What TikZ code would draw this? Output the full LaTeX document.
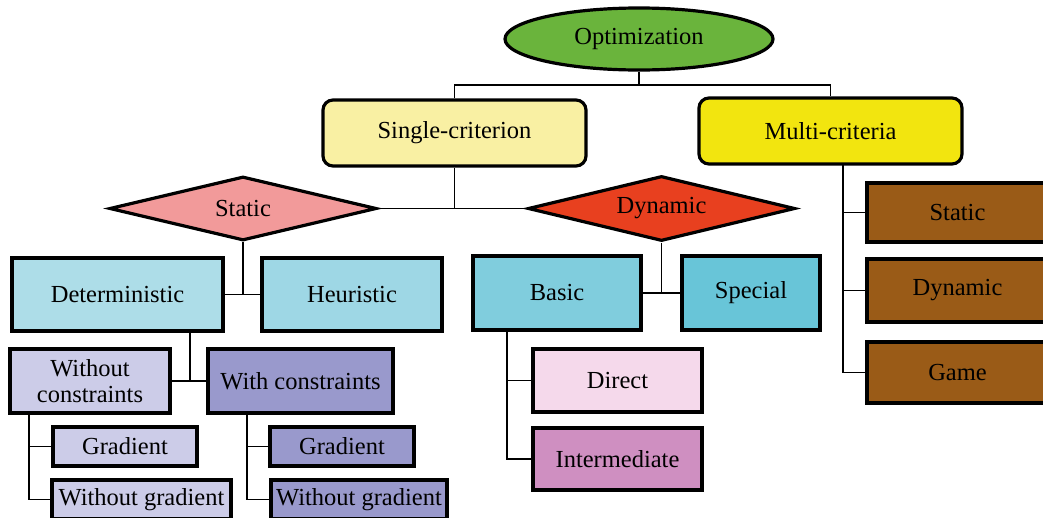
\documentclass[tikz,border=0pt]{standalone}
\usepackage{fontspec}
\setmainfont{Liberation Serif}
\usetikzlibrary{shapes.geometric}
\definecolor{optgreen}{HTML}{6AB43C}
\definecolor{singlecol}{HTML}{F9F0A3}
\definecolor{multicol}{HTML}{F2E50F}
\definecolor{staticcol}{HTML}{F29A9A}
\definecolor{dyncol}{HTML}{E8401F}
\definecolor{detcol}{HTML}{ADDDE8}
\definecolor{heurcol}{HTML}{9ED7E5}
\definecolor{basiccol}{HTML}{80CDDD}
\definecolor{specialcol}{HTML}{68C5D8}
\definecolor{woccol}{HTML}{CCCCE8}
\definecolor{wccol}{HTML}{9999CC}
\definecolor{directcol}{HTML}{F5D9EB}
\definecolor{intercol}{HTML}{CF8FC1}
\definecolor{browncol}{HTML}{9A5B17}
\begin{document}
\begin{tikzpicture}[x=1pt,y=-1pt,
  base/.style={draw=black, line width=3.2pt, inner sep=0pt, align=center,
    font=\fontsize{24.5}{28}\selectfont},
  sz/.style 2 args={minimum width=#1pt, minimum height=#2pt},
  box/.style={base, rectangle},
  rbox/.style={base, rectangle, rounded corners=10pt},
  dia/.style={base, diamond, aspect=4},
  oval/.style={base, ellipse},
  conn/.style={draw=black, line width=1.7pt}]
\useasboundingbox (0,0) rectangle (1043,517);
\clip (0,0) rectangle (1043,517);

% nodes
\node[oval, sz={268}{62}, fill=optgreen] (opt) at (639,39) {Optimization};
\node[rbox, sz={263}{66}, fill=singlecol] (single) at (454.5,133) {Single-criterion};
\node[rbox, sz={263}{66}, fill=multicol] (multi) at (830.5,131) {Multi-criteria};
\node[dia, sz={267}{64}, fill=staticcol] (sstatic) at (243,208.5) {Static};
\node[dia, sz={267}{65}, fill=dyncol] (sdyn) at (661.5,208.5) {Dynamic};
\node[box, sz={211}{73}, fill=detcol] (det) at (117.5,294.5) {Deterministic};
\node[box, sz={180}{73}, fill=heurcol] (heur) at (352,294.5) {Heuristic};
\node[box, sz={168}{74}, fill=basiccol] (basic) at (557,293) {Basic};
\node[box, sz={138}{74}, fill=specialcol] (special) at (751,293) {Special};
\node[box, sz={160}{64}, fill=woccol] (woc) at (90,381) {Without\\[-2pt]constraints};
\node[box, sz={185}{64}, fill=wccol] (wc) at (300.5,381) {With constraints};
\node[box, sz={144}{39}, fill=woccol] (g1) at (125,446.5) {Gradient};
\node[box, sz={179}{39}, fill=woccol] (wg1) at (141.5,499.5) {Without gradient};
\node[box, sz={144}{39}, fill=wccol] (g2) at (342,446.5) {Gradient};
\node[box, sz={176}{39}, fill=wccol] (wg2) at (359,499.5) {Without gradient};
\node[box, sz={169}{63}, fill=directcol] (direct) at (617.5,380.5) {Direct};
\node[box, sz={169}{62}, fill=intercol] (inter) at (617.5,459) {Intermediate};
\node[box, sz={181}{59}, fill=browncol] (mstatic) at (957.5,212.5) {Static};
\node[box, sz={181}{63}, fill=browncol] (mdyn) at (957.5,290.5) {Dynamic};
\node[box, sz={181}{61}, fill=browncol] (mgame) at (957.5,372.5) {Game};

% junction coordinates
\coordinate (h0) at (0,85);
\coordinate (j0) at (opt.south |- h0);
\coordinate (dj) at (190,380.5);
\coordinate (wocj) at (29,413);
\coordinate (wcj) at (247,413);
\coordinate (bj) at (507,330);
\coordinate (mj) at (843,164);

% connectors
\draw[conn] (opt.south) -- (j0);
\draw[conn] (single.north) |- (j0) -| (multi.north);
\draw[conn] (single.south) -- (single.south |- sstatic.east);
\draw[conn] (sstatic.east) -- (sdyn.west);
\draw[conn] (sstatic.south) -- (sstatic.south |- det.east);
\draw[conn] (det.east) -- (heur.west);
\draw[conn] (sdyn.south) -- (sdyn.south |- basic.east);
\draw[conn] (basic.east) -- (special.west);
\draw[conn] (det.south -| dj) -- (dj);
\draw[conn] (woc.east) -- (wc.west);
\draw[conn] (wocj) |- (wg1.west);
\draw[conn] (wocj |- g1.west) -- (g1.west);
\draw[conn] (wcj) |- (wg2.west);
\draw[conn] (wcj |- g2.west) -- (g2.west);
\draw[conn] (bj) |- (inter.west);
\draw[conn] (bj |- direct.west) -- (direct.west);
\draw[conn] (mj) |- (mgame.west);
\draw[conn] (mj |- mstatic.west) -- (mstatic.west);
\draw[conn] (mj |- mdyn.west) -- (mdyn.west);
\end{tikzpicture}
\end{document}
